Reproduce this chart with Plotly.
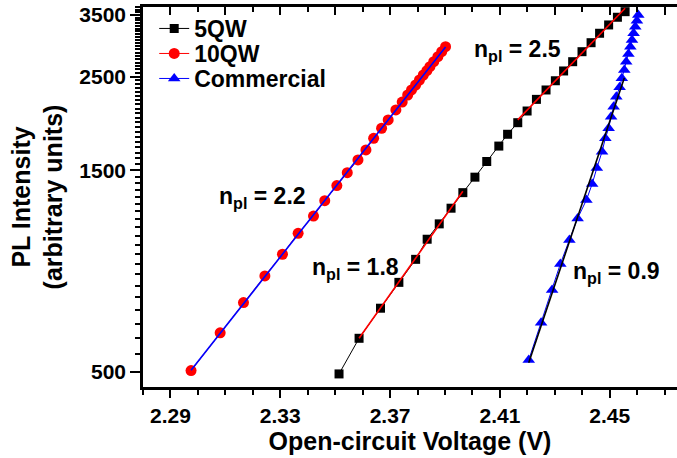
import numpy as np
import plotly.graph_objects as go

# Open-circuit voltage (V) and PL intensity (a.u.) for each sample
v_5qw = [2.3514, 2.3587, 2.3665, 2.3732, 2.3793, 2.3835, 2.3879, 2.3922, 2.3965,
         2.4009, 2.4052, 2.4096, 2.4128, 2.4165, 2.4199, 2.4233, 2.4268, 2.4302,
         2.4332, 2.4365, 2.4399, 2.4432, 2.4463, 2.4496, 2.4528, 2.4556]
i_5qw = [494, 600, 707, 814, 923, 1030, 1120, 1220, 1328,
         1445, 1574, 1712, 1826, 1945, 2073, 2209, 2325, 2445,
         2579, 2713, 2865, 3009, 3168, 3315, 3457, 3564]

v_10qw = [2.2975, 2.3081, 2.3166, 2.3244, 2.3308, 2.3365, 2.3421, 2.3462, 2.3506,
          2.3544, 2.3583, 2.3612, 2.3640, 2.3669, 2.3693, 2.3721, 2.3744, 2.3764,
          2.3778, 2.3793, 2.3807, 2.3821, 2.3834, 2.3845, 2.3859, 2.3874, 2.3888, 2.3902]
i_10qw = [503, 618, 729, 843, 949, 1064, 1169, 1271, 1380,
          1481, 1587, 1676, 1786, 1887, 1974, 2085, 2177, 2262,
          2325, 2389, 2455, 2523, 2583, 2640, 2713, 2788, 2865, 2944]

v_com = [2.4205, 2.4250, 2.4290, 2.4320, 2.4353, 2.4383, 2.4415, 2.4436, 2.4453,
         2.4472, 2.4484, 2.4496, 2.4505, 2.4514, 2.4524, 2.4536, 2.4544, 2.4553,
         2.4560, 2.4568, 2.4575, 2.4581, 2.4587, 2.4593, 2.4599, 2.4604]
i_com = [533, 653, 781, 900, 1026, 1154, 1276, 1392, 1519,
         1660, 1786, 1887, 2010, 2123, 2242, 2360, 2478, 2593,
         2713, 2830, 2944, 3053, 3168, 3284, 3393, 3500]

# Ideality-factor labels and where they sit (V, intensity)
n_labels = ["2.2", "1.8", "2.5", "0.9"]
label_v = [2.3236, 2.3575, 2.4165, 2.4524]
label_i = [1290, 880, 2890, 861]

x_ticks = [2.29, 2.31, 2.33, 2.35, 2.37, 2.39, 2.41, 2.43, 2.45, 2.47]
x_ticktext = ["2.29", "", "2.33", "", "2.37", "", "2.41", "", "2.45", ""]
y_ticks = [500, 1000, 1500, 2000, 2500, 3000, 3500]
y_ticktext = ["500", "", "1500", "", "2500", "", "3500"]

FONT = "Liberation Sans, Arial, sans-serif"


def exp_fit(v, i, lo, hi):
    """Straight-line fit of log10(I) against V over lo <= V <= hi."""
    v = np.asarray(v)
    i = np.asarray(i, dtype=float)
    sel = (v >= lo) & (v <= hi)
    a, b = np.polyfit(v[sel], np.log10(i[sel]), 1)
    xs = np.array([v[sel].min(), v[sel].max()])
    return xs, 10 ** (a * xs + b)


fig = go.Figure()

series = [
    ("5QW", v_5qw, i_5qw, "black", "square", 9, "legend"),
    ("10QW", v_10qw, i_10qw, "red", "circle", 11, "legend2"),
    ("Commercial", v_com, i_com, "blue", "triangle-up", 11, "legend3"),
]
for name, v, i, col, sym, size, leg in series:
    fig.add_trace(go.Scatter(x=v, y=i, name=name, mode="lines+markers", legend=leg,
                             line=dict(color=col, width=1),
                             marker=dict(symbol=sym, size=size, color=col)))

# Exponential fits drawn over the data
fits = [
    (v_10qw, i_10qw, 2.29, 2.40, "blue"),
    (v_5qw, i_5qw, 2.352, 2.3965, "red"),
    (v_5qw, i_5qw, 2.416, 2.46, "red"),
    (v_com, i_com, 2.42, 2.4553, "black"),
]
for v, i, lo, hi, col in fits:
    fx, fy = exp_fit(v, i, lo, hi)
    fig.add_trace(go.Scatter(x=fx, y=fy, mode="lines", showlegend=False,
                             line=dict(color=col, width=1.6), hoverinfo="skip"))

# invisible trace carrying the top axis
fig.add_trace(go.Scatter(x=[2.30], y=[1000], xaxis="x2", mode="markers",
                         marker=dict(opacity=0), showlegend=False, hoverinfo="skip"))

for txt, lv, li in zip(n_labels, label_v, label_i):
    fig.add_annotation(x=lv, y=np.log10(li), xref="x", yref="y",
                       text=f"n<sub>pl</sub> = {txt}", showarrow=False,
                       font=dict(family=FONT, size=23, color="black", weight="bold"))

x_range = [2.28, 2.4745]
minor_x = dict(tickmode="array", tickvals=[round(2.28 + 0.01 * k, 2) for k in range(21)],
               ticklen=5, tickwidth=2, tickcolor="black")
legend_font = dict(family=FONT, size=23, color="black", weight="bold")


def legend_box(ytop):
    return dict(x=0.021, y=ytop, xanchor="left", yanchor="top",
                bgcolor="rgba(0,0,0,0)", borderwidth=0, font=legend_font)


fig.update_layout(
    width=677, height=458,
    margin=dict(l=143, r=0, t=7, b=71),
    paper_bgcolor="white", plot_bgcolor="white",
    showlegend=True,
    legend=legend_box(1.0),
    legend2=legend_box(0.9342),
    legend3=legend_box(0.8684),
    xaxis=dict(range=x_range, showgrid=False, zeroline=False,
               showline=True, linecolor="black", linewidth=2.5,
               ticks="outside", ticklen=8, tickwidth=2, tickcolor="black",
               tickmode="array", tickvals=x_ticks, ticktext=x_ticktext,
               minor=dict(ticks="outside", **minor_x),
               tickfont=dict(family=FONT, size=21, color="black", weight="bold"),
               title=dict(text="Open-circuit Voltage (V)", standoff=6,
                          font=dict(family=FONT, size=25, color="black", weight="bold"))),
    xaxis2=dict(range=x_range, overlaying="x", side="top", showgrid=False,
                zeroline=False, showline=True, linecolor="black", linewidth=2.5,
                ticks="inside", ticklen=8, tickwidth=2, tickcolor="black",
                tickmode="array", tickvals=x_ticks, showticklabels=False,
                minor=dict(ticks="inside", **minor_x)),
    yaxis=dict(type="log", range=[np.log10(460), np.log10(3656)],
               showgrid=False, zeroline=False,
               showline=True, linecolor="black", linewidth=2.5,
               ticks="outside", ticklen=10, tickwidth=2, tickcolor="black",
               tickmode="array", tickvals=y_ticks, ticktext=y_ticktext,
               minor=dict(ticks="outside", tickmode="array",
                          tickvals=list(range(450, 3701, 50)),
                          ticklen=5, tickwidth=1.5, tickcolor="black"),
               tickfont=dict(family=FONT, size=21, color="black", weight="bold"),
               title=dict(text="PL Intensity<br>(arbitrary units)", standoff=10,
                          font=dict(family=FONT, size=25, color="black", weight="bold"))),
)

fig.write_html("out.html")
